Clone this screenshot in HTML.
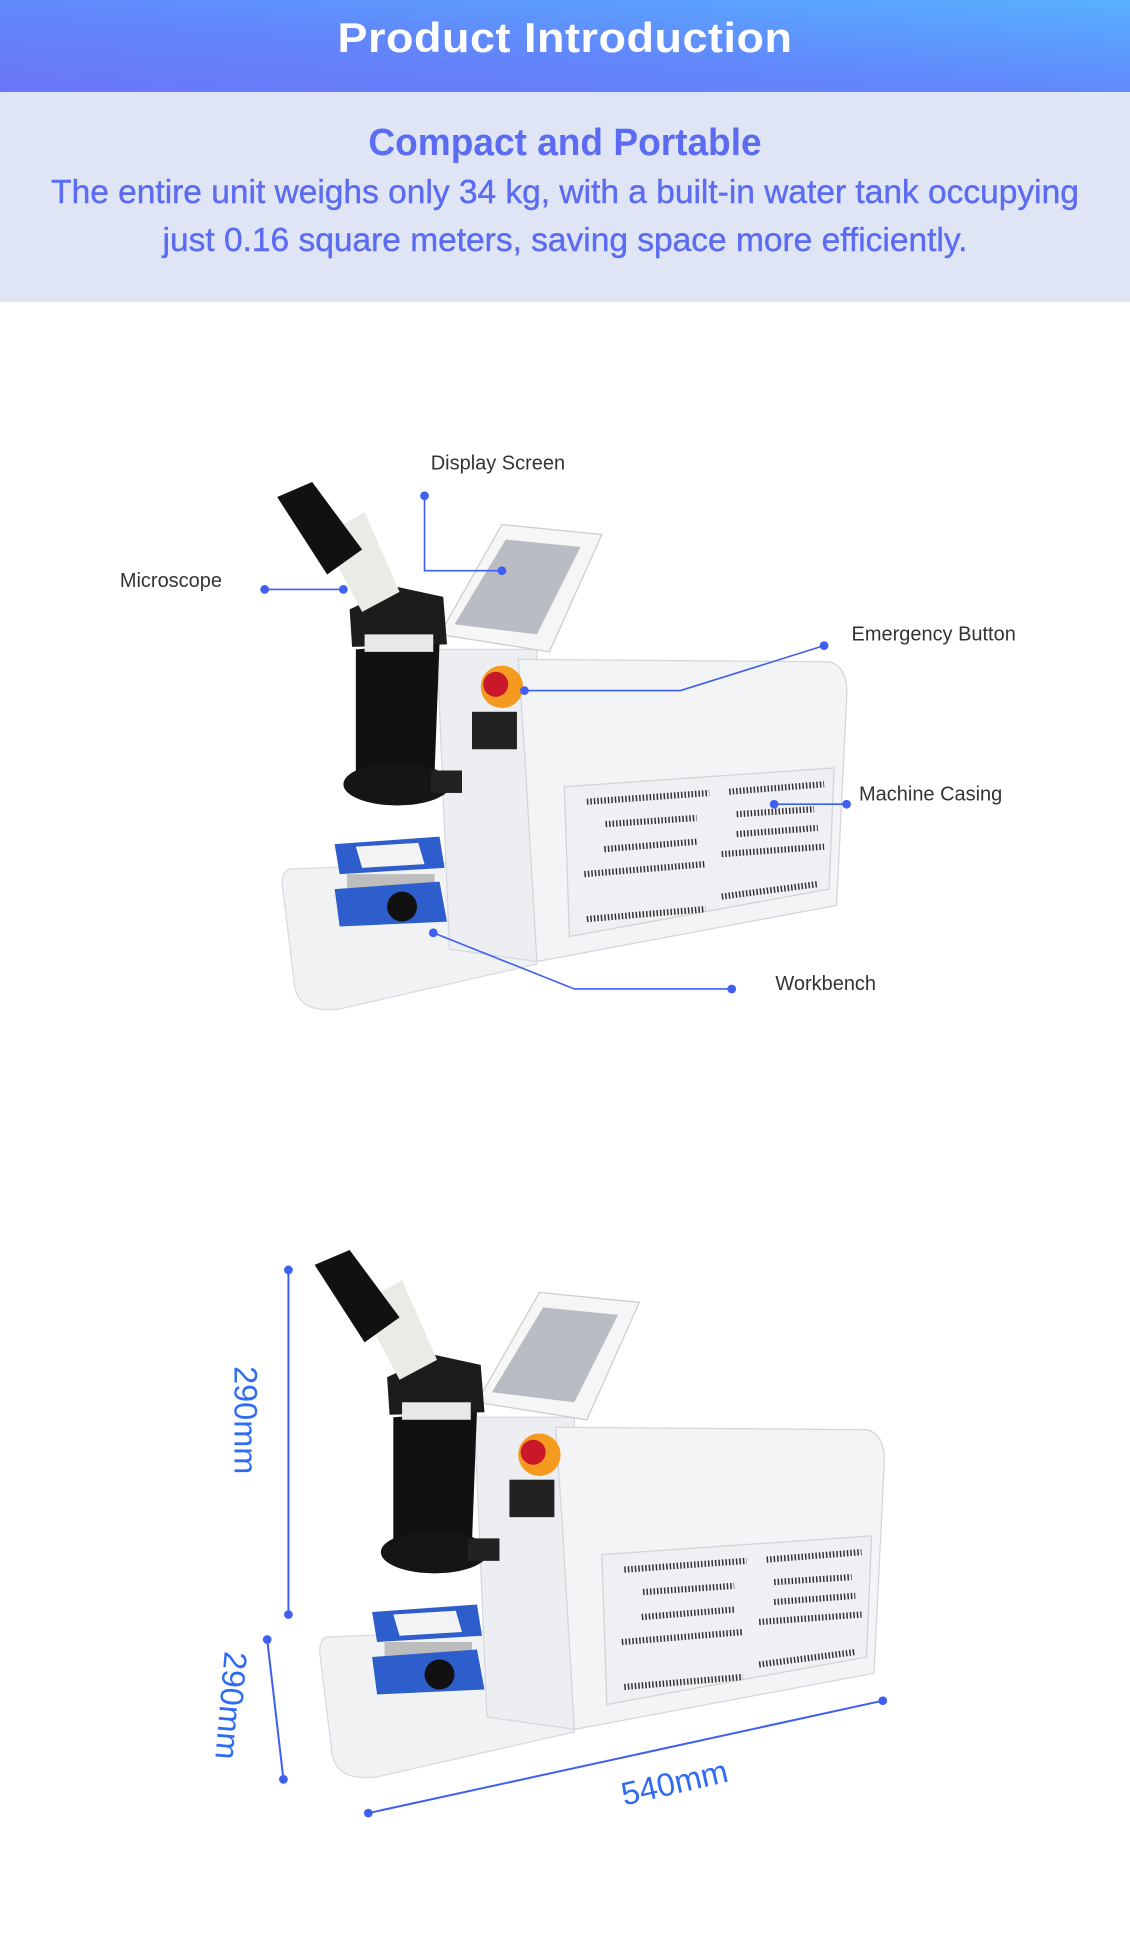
<!DOCTYPE html>
<html><head><meta charset="utf-8"><style>
html,body{margin:0;padding:0;background:#fff;}
body{width:1130px;height:1958px;overflow:hidden;position:relative;font-family:"Liberation Sans",sans-serif;}
.hdr{position:absolute;left:0;top:0;width:1130px;height:92px;background:linear-gradient(to bottom left,#58b0ff 0%,#6286fb 55%,#6b76f7 100%);}
.hdr div{position:absolute;left:0;right:0;top:14px;text-align:center;color:#fff;font-weight:bold;font-size:42px;letter-spacing:0.5px;transform:scaleX(1.07);}
.band{position:absolute;left:0;top:92px;width:1130px;height:210px;background:#dfe5f4;text-align:center;color:#5b6cf2;}
.band h2{margin:0;position:absolute;left:0;right:0;top:30px;font-size:38px;font-weight:bold;transform:scaleX(0.975);}
.band p{margin:0;position:absolute;left:0;right:0;top:76px;font-size:33px;line-height:48px;transform:scaleX(1.015);-webkit-text-stroke:0.4px #5b6cf2;}
svg{position:absolute;left:0;top:0;}
</style></head><body>
<div class="hdr"><div>Product Introduction</div></div>
<div class="band"><h2>Compact and Portable</h2><p>The entire unit weighs only 34 kg, with a built-in water tank occupying<br>just 0.16 square meters, saving space more efficiently.</p></div>
<svg width="1130" height="1958" viewBox="0 0 905 1568">
<defs>
<g id="m">
 <path d="M232,696 L430,688 L430,772 L272,808 Q240,812 236,790 L226,708 Q226,697 232,696Z" fill="#f1f2f4" stroke="#d8dadf"/>
 <path d="M350,520 L430,520 L430,770 L360,760Z" fill="#eceef1" stroke="#d6d8dc"/>
 <path d="M415,528 L665,530 Q680,535 678,560 L670,725 L430,770 L420,600Z" fill="#f3f4f6" stroke="#d3d5da"/>
 <path d="M452,630 L668,615 L664,712 L456,750Z" fill="#eef0f3" stroke="#cfd2d8"/>
 <g stroke="#333" stroke-width="5" stroke-dasharray="1.2 1.6">
  <line x1="470" y1="642" x2="568" y2="635"/><line x1="485" y1="660" x2="558" y2="655"/>
  <line x1="484" y1="680" x2="558" y2="674"/><line x1="468" y1="700" x2="565" y2="692"/>
  <line x1="470" y1="736" x2="565" y2="728"/><line x1="584" y1="634" x2="660" y2="628"/>
  <line x1="590" y1="652" x2="652" y2="648"/><line x1="590" y1="668" x2="655" y2="663"/>
  <line x1="578" y1="684" x2="660" y2="678"/><line x1="578" y1="718" x2="655" y2="708"/>
 </g>
 <path d="M352,508 L402,420 L482,428 L440,522Z" fill="#f6f6f7" stroke="#ccc"/>
 <path d="M364,500 L405,432 L465,438 L430,508Z" fill="#b9bcc2"/>
 <circle cx="402" cy="550" r="17" fill="#f39a1f"/><circle cx="397" cy="548" r="10" fill="#c8182a"/>
 <rect x="378" y="570" width="36" height="30" fill="#222"/>
 <path d="M285,520 L352,515 L348,620 L285,622Z" fill="#111"/>
 <ellipse cx="318" cy="628" rx="43" ry="17" fill="#151515"/>
 <path d="M280,488 L318,470 L355,478 L358,516 L282,518Z" fill="#1c1c1c"/>
 <rect x="292" y="508" width="55" height="14" fill="#e8e8e8"/>
 <path d="M258,430 L292,410 L320,474 L290,490Z" fill="#e9ece6"/>
 <path d="M222,398 L250,386 L290,440 L262,460Z" fill="#111"/>
 <rect x="345" y="617" width="25" height="18" fill="#222"/>
 <path d="M268,676 L352,670 L356,695 L272,700Z" fill="#2d5ecc"/>
 <path d="M285,678 L335,675 L340,692 L290,695Z" fill="#f3f3f3"/>
 <rect x="278" y="700" width="70" height="20" fill="#bdbdbd"/>
 <path d="M268,712 L352,706 L358,738 L272,742Z" fill="#2d5ecc"/>
 <circle cx="322" cy="726" r="12" fill="#111"/>
</g>
</defs>
<use href="#m"/>
<use href="#m" transform="translate(30,615)"/>
<g stroke="#3f5ff0" stroke-width="1.3" fill="none">
 <polyline points="212,472 275,472"/>
 <polyline points="340,397 340,457 402,457"/>
 <polyline points="660,517 545,553 420,553"/>
 <polyline points="620,644 678,644"/>
 <polyline points="347,747 460,792 586,792"/>
</g>
<g fill="#3f5ff0">
 <circle cx="212" cy="472" r="3.5"/><circle cx="275" cy="472" r="3.5"/>
 <circle cx="340" cy="397" r="3.5"/><circle cx="402" cy="457" r="3.5"/>
 <circle cx="660" cy="517" r="3.5"/><circle cx="420" cy="553" r="3.5"/>
 <circle cx="620" cy="644" r="3.5"/><circle cx="678" cy="644" r="3.5"/>
 <circle cx="347" cy="747" r="3.5"/><circle cx="586" cy="792" r="3.5"/>
</g>
<g font-family="Liberation Sans, sans-serif" font-size="16" fill="#333">
 <text x="96" y="470">Microscope</text>
 <text x="345" y="376">Display Screen</text>
 <text x="682" y="513">Emergency Button</text>
 <text x="688" y="641">Machine Casing</text>
 <text x="621" y="793">Workbench</text>
</g>
<g stroke="#3f5ff0" stroke-width="1.6">
 <line x1="231" y1="1017" x2="231" y2="1293"/>
 <line x1="214" y1="1313" x2="227" y2="1425"/>
 <line x1="295" y1="1452" x2="707" y2="1362"/>
</g>
<g fill="#3f5ff0">
 <circle cx="231" cy="1017" r="3.5"/><circle cx="231" cy="1293" r="3.5"/>
 <circle cx="214" cy="1313" r="3.5"/><circle cx="227" cy="1425" r="3.5"/>
 <circle cx="295" cy="1452" r="3.5"/><circle cx="707" cy="1362" r="3.5"/>
</g>
<g font-family="Liberation Sans, sans-serif" font-size="26" fill="#2f6cf2">
 <text transform="translate(188,1094) rotate(90)">290mm</text>
 <text transform="translate(180,1322) rotate(95)">290mm</text>
 <text transform="translate(500,1446) rotate(-13)">540mm</text>
</g>
</svg>
</body></html>
